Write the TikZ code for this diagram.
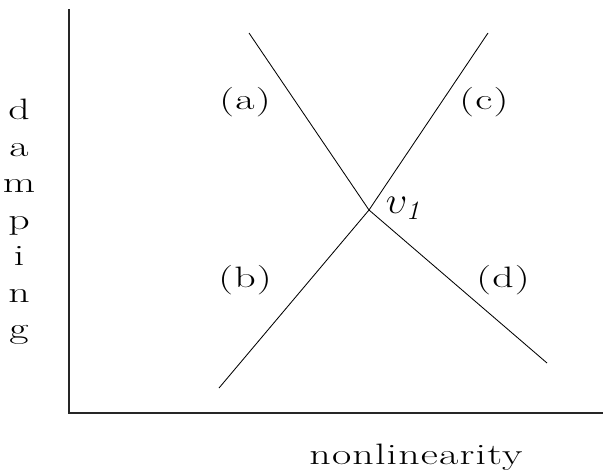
\RequirePackage{fix-cm}
\documentclass[tikz,border=0pt]{standalone}
\usepackage{fontspec}
\usetikzlibrary{calc}
\newfontfamily\widefont{lmroman17-regular}[Extension=.otf, FakeStretch=1.42, LetterSpace=4]

\begin{document}
\begin{tikzpicture}[
        x=0.025cm, y=-0.025cm,
        every node/.style={font=\widefont\fontsize{21}{26}\selectfont},
        ax/.style={draw=black!85, line width=0.9pt},
        br/.style={draw=black, line width=0.6pt},
        lbl/.style={inner sep=0pt},
      ]
      \useasboundingbox (0,0) rectangle (603,475);

      % axes
      \coordinate (ytop)   at (69,9);
      \coordinate (origin) at (69,413);
      \coordinate (xend)   at (603,413);
      \draw[ax] (ytop) -- (origin) -- (xend);

      % branches through the point v1
      \coordinate (v1) at (369,210);
      \coordinate (ea) at (249,33);
      \coordinate (eb) at (219,388);
      \coordinate (ec) at (488,33);
      \coordinate (ed) at (547,363);
      \draw[br] (ea) -- (v1) -- (ed);
      \draw[br] (eb) -- (v1) -- (ec);

      \node[lbl] (la) at (245,102) {(a)};
      \node[lbl] (lb) at (245,280) {(b)};
      \node[lbl] (lc) at (484,102) {(c)};
      \node[lbl] (ld) at (503,280) {(d)};
      \node[lbl, font=\fontsize{27}{32}\selectfont] (lv) at (403,208) {$\upsilon_{\mathit{1}}$};

      % axis titles
      \node[lbl, align=center] (ylab) at (19,222) {d\\a\\m\\p\\i\\n\\g};
      \node[lbl] (xlab) at (416,457) {nonlinearity};
    \end{tikzpicture}
\end{document}
